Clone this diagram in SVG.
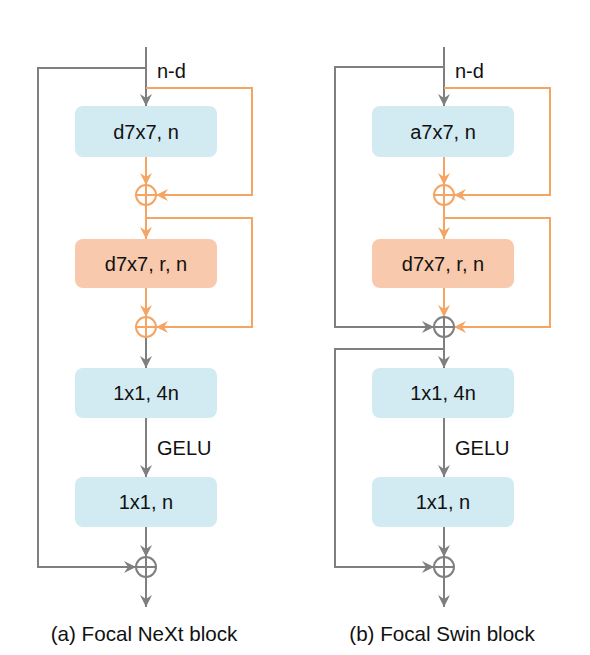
<svg xmlns="http://www.w3.org/2000/svg" width="590" height="655" viewBox="0 0 590 655">
<style>
.g{fill:none;stroke:#7f7f7f;stroke-width:2}
.o{fill:none;stroke:#f4a563;stroke-width:2}
.bb{fill:#d2eaf1}
.ob{fill:#f8c9ac}
text{font-family:"Liberation Sans",Arial,sans-serif;font-size:20px;fill:#111}
.c{text-anchor:middle}
.cap{font-size:20.6px}
</style>
<defs>
<marker id="ag" markerUnits="userSpaceOnUse" markerWidth="14" markerHeight="14" refX="12" refY="6" orient="auto"><path d="M0,0 L12,6 L0,12 L4,6 z" fill="#7f7f7f"/></marker>
<marker id="ao" markerUnits="userSpaceOnUse" markerWidth="14" markerHeight="14" refX="12" refY="6" orient="auto"><path d="M0,0 L12,6 L0,12 L4,6 z" fill="#f4a563"/></marker>
</defs>
<rect width="590" height="655" fill="#fff"/>
<g id="connectors">
<path class="g" d="M146,47 V106" marker-end="url(#ag)"/>
<path class="g" d="M146,68 H38 V567 H136" marker-end="url(#ag)"/>
<path class="o" d="M146,88 H252 V195 H156" marker-end="url(#ao)"/>
<path class="o" d="M146,157 V185" marker-end="url(#ao)"/>
<path class="o" d="M146,205 V239" marker-end="url(#ao)"/>
<path class="o" d="M146,218 H252 V327 H156" marker-end="url(#ao)"/>
<path class="o" d="M146,288 V317" marker-end="url(#ao)"/>
<path class="g" d="M146,337 V368" marker-end="url(#ag)"/>
<path class="g" d="M146,418 V477" marker-end="url(#ag)"/>
<path class="g" d="M146,527 V557" marker-end="url(#ag)"/>
<path class="g" d="M146,577 V607" marker-end="url(#ag)"/>
<path class="g" d="M444,47 V106" marker-end="url(#ag)"/>
<path class="g" d="M444,67 H335 V327 H434" marker-end="url(#ag)"/>
<path class="o" d="M444,88 H550 V195 H454" marker-end="url(#ao)"/>
<path class="o" d="M444,157 V185" marker-end="url(#ao)"/>
<path class="o" d="M444,205 V239" marker-end="url(#ao)"/>
<path class="o" d="M444,218 H550 V327 H454" marker-end="url(#ao)"/>
<path class="o" d="M444,288 V317" marker-end="url(#ao)"/>
<path class="g" d="M444,337 V368" marker-end="url(#ag)"/>
<path class="g" d="M444,349 H335 V567 H434" marker-end="url(#ag)"/>
<path class="g" d="M444,418 V477" marker-end="url(#ag)"/>
<path class="g" d="M444,527 V557" marker-end="url(#ag)"/>
<path class="g" d="M444,577 V607" marker-end="url(#ag)"/>
</g>
<g id="labels">
<text x="157" y="78">n-d</text>
<text x="157" y="455">GELU</text>
<text x="455" y="78">n-d</text>
<text x="455" y="455">GELU</text>
</g>
<g id="a_box1"><rect class="bb" x="75" y="106" width="142" height="51" rx="8"/><text class="c" x="146" y="139">d7x7, n</text></g>
<g id="a_sum1"><circle class="o" cx="146" cy="195" r="10"/><path class="o" d="M136,195 H156 M146,185 V205"/></g>
<g id="a_box2"><rect class="ob" x="75" y="239" width="142" height="49" rx="8"/><text class="c" x="146" y="271">d7x7, r, n</text></g>
<g id="a_sum2"><circle class="o" cx="146" cy="327" r="10"/><path class="o" d="M136,327 H156 M146,317 V337"/></g>
<g id="a_box3"><rect class="bb" x="75" y="368" width="142" height="50" rx="8"/><text class="c" x="146" y="400">1x1, 4n</text></g>
<g id="a_box4"><rect class="bb" x="75" y="477" width="142" height="50" rx="8"/><text class="c" x="146" y="509">1x1, n</text></g>
<g id="a_sum3"><circle class="g" cx="146" cy="567" r="10"/><path class="g" d="M136,567 H156 M146,557 V577"/></g>
<g id="b_box1"><rect class="bb" x="372" y="106" width="142" height="51" rx="8"/><text class="c" x="443" y="139">a7x7, n</text></g>
<g id="b_sum1"><circle class="o" cx="444" cy="195" r="10"/><path class="o" d="M434,195 H454 M444,185 V205"/></g>
<g id="b_box2"><rect class="ob" x="372" y="239" width="142" height="49" rx="8"/><text class="c" x="443" y="271">d7x7, r, n</text></g>
<g id="b_sum2"><circle class="g" cx="444" cy="327" r="10"/><path class="g" d="M434,327 H454 M444,317 V337"/></g>
<g id="b_box3"><rect class="bb" x="372" y="368" width="142" height="50" rx="8"/><text class="c" x="443" y="400">1x1, 4n</text></g>
<g id="b_box4"><rect class="bb" x="372" y="477" width="142" height="50" rx="8"/><text class="c" x="443" y="509">1x1, n</text></g>
<g id="b_sum3"><circle class="g" cx="444" cy="567" r="10"/><path class="g" d="M434,567 H454 M444,557 V577"/></g>
<g id="captions">
<text class="c cap" x="144" y="641">(a) Focal NeXt block</text>
<text class="c cap" x="442" y="641">(b) Focal Swin block</text>
</g>
</svg>
